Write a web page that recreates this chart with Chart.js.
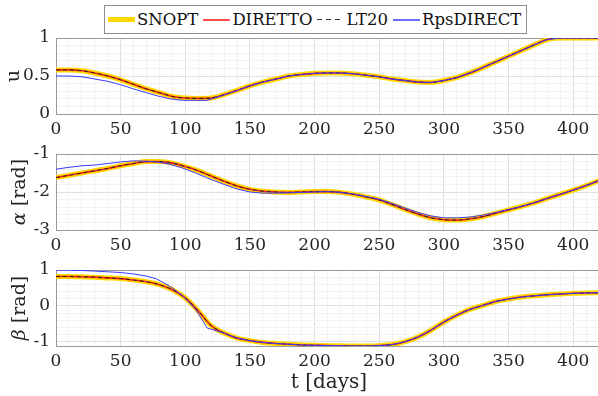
<!DOCTYPE html>
<html>
<head>
<meta charset="utf-8">
<script src="https://cdn.jsdelivr.net/npm/chart.js@4.4.1/dist/chart.umd.min.js"></script>
<style>
  body { margin: 0; overflow: hidden; background: #fff; }
  #wrap { position: absolute; left: 0; top: 0; width: 604px; height: 396px; }
  #wrap canvas { position: absolute; left: 0; top: 0; }
  .lbl { position: absolute; font-family: "DejaVu Serif", serif; color: #262626; white-space: nowrap; }
  .ytitle { transform: translate(-50%, -50%) rotate(-90deg); font-size: 19px; }
  #legend { position: absolute; left: 104px; top: 5px; height: 27px; border: 1px solid #8c8c8c;
    background: #fff; font-family: "DejaVu Serif", serif; font-size: 16.5px; color: #111;
    display: inline-flex; align-items: center; padding-right: 3px; white-space: nowrap; }
  .item { display: flex; align-items: center; margin-left: 3px; margin-right: 2px; }
  .sample { width: 27px; margin-right: 2px; }
</style>
</head>
<body>
<div id="wrap">
  <canvas id="c-u" width="604" height="396"></canvas>
  <canvas id="c-alpha" width="604" height="396"></canvas>
  <canvas id="c-beta" width="604" height="396"></canvas>

  <div id="legend">
    <span class="item"><span class="sample" style="height:5px;background:#FFD700"></span>SNOPT</span>
    <span class="item"><span class="sample" style="height:2px;background:#ff4d4d"></span>DIRETTO</span>
    <span class="item"><span class="sample" style="height:1px;background:repeating-linear-gradient(to right,#333 0 5px,transparent 5px 9px)"></span>LT20</span>
    <span class="item"><span class="sample" style="height:2px;background:#6b6bff"></span>RpsDIRECT</span>
  </div>

  <div class="lbl ytitle" style="left:12px;top:76px">u</div>
  <div class="lbl ytitle" style="left:18px;top:192px"><i>α</i> [rad]</div>
  <div class="lbl ytitle" style="left:18px;top:308px"><i>β</i> [rad]</div>
  <div class="lbl" style="left:329px;top:381px;transform:translate(-50%,-50%);font-size:20px">t [days]</div>
</div>

<script>
// time grid of the smooth solutions and of the RpsDIRECT nodes
const days = [0, 10, 20, 30, 40, 50, 60, 70, 80, 90, 100, 110, 120, 130, 140, 150, 160, 170, 180, 190, 200,
  210, 220, 230, 240, 250, 260, 270, 280, 290, 300, 310, 320, 330, 340, 350, 360, 370, 380, 390, 400, 410, 420];
const rpsDays = [0, 10, 20, 30, 40, 50, 60, 70, 78, 88, 98, 108, 117, 130, 140, 150, 160, 170, 180, 190, 200,
  210, 220, 230, 240, 250, 260, 270, 280, 290, 300, 310, 320, 330, 340, 350, 360, 370, 380, 390, 400, 410, 420];

// u
const uSnopt = [0.58, 0.58, 0.57, 0.54, 0.50, 0.45, 0.39, 0.33, 0.28, 0.23, 0.21, 0.205, 0.21, 0.255, 0.31,
  0.37, 0.42, 0.46, 0.50, 0.52, 0.535, 0.54, 0.54, 0.53, 0.51, 0.49, 0.46, 0.44, 0.42, 0.415, 0.44,
  0.48, 0.54, 0.61, 0.685, 0.76, 0.835, 0.91, 0.98, 1, 1, 1, 1];
const uRps = [0.50, 0.50, 0.49, 0.46, 0.43, 0.385, 0.33, 0.28, 0.24, 0.20, 0.18, 0.18, 0.18, 0.25, 0.31,
  0.37, 0.42, 0.46, 0.50, 0.52, 0.535, 0.54, 0.54, 0.53, 0.51, 0.49, 0.46, 0.44, 0.42, 0.415, 0.44,
  0.48, 0.54, 0.61, 0.685, 0.76, 0.835, 0.91, 0.98, 1, 1, 1, 1];

// alpha [rad]
const alphaSnopt = [-1.62, -1.56, -1.50, -1.44, -1.38, -1.31, -1.25, -1.20, -1.20, -1.24, -1.33, -1.44, -1.58,
  -1.72, -1.84, -1.93, -1.98, -2.00, -2.01, -2.00, -1.99, -1.99, -2.01, -2.06, -2.13, -2.21, -2.33, -2.46,
  -2.58, -2.68, -2.73, -2.74, -2.71, -2.65, -2.56, -2.47, -2.38, -2.28, -2.17, -2.06, -1.95, -1.83, -1.70];
const alphaRps = [-1.40, -1.35, -1.31, -1.29, -1.25, -1.21, -1.18, -1.19, -1.21, -1.27, -1.37, -1.50, -1.63,
  -1.80, -1.92, -2.00, -2.03, -2.03, -2.02, -2.01, -2.00, -1.99, -2.01, -2.05, -2.12, -2.19, -2.30, -2.42,
  -2.54, -2.63, -2.68, -2.68, -2.66, -2.61, -2.54, -2.46, -2.38, -2.28, -2.17, -2.06, -1.95, -1.83, -1.70];

// beta [rad]
const betaSnopt = [0.82, 0.82, 0.81, 0.80, 0.78, 0.76, 0.72, 0.67, 0.59, 0.45, 0.22, -0.14, -0.55, -0.76,
  -0.90, -0.97, -1.02, -1.05, -1.07, -1.09, -1.10, -1.11, -1.115, -1.12, -1.12, -1.11, -1.08, -1.00, -0.87,
  -0.68, -0.45, -0.26, -0.10, 0.01, 0.12, 0.19, 0.245, 0.28, 0.31, 0.33, 0.35, 0.36, 0.365];
const betaRps = [1.00, 0.995, 0.985, 0.97, 0.95, 0.93, 0.89, 0.83, 0.75, 0.55, 0.28, -0.10, -0.62, -0.76,
  -0.90, -0.97, -1.02, -1.05, -1.07, -1.09, -1.10, -1.11, -1.115, -1.12, -1.12, -1.11, -1.08, -1.00, -0.87,
  -0.68, -0.45, -0.26, -0.10, 0.01, 0.12, 0.19, 0.245, 0.28, 0.31, 0.33, 0.35, 0.36, 0.365];

// tick labels
const dayTicks = [0, 50, 100, 150, 200, 250, 300, 350, 400];
const uTicks = [0, 0.5, 1];
const alphaTicks = [-3, -2, -1];
const betaTicks = [-1, 0, 1];

const FONT = { family: "'DejaVu Serif', serif", size: 17 };

const pts = (xs, ys) => xs.map((x, i) => ({ x: x, y: ys[i] }));
const isMajor = (list, v) => list.some(m => Math.abs(m - v) < 1e-6);

function gridTicks(min, max, step) {
  const out = [];
  const n = Math.round((max - min) / step);
  for (let i = 0; i <= n; i++) out.push(+(min + i * step).toFixed(6));
  return out;
}

// box round the axes, like matlab's "box on"
const frame = {
  id: "frame",
  beforeDatasetsDraw(chart) {
    const { ctx, chartArea: a } = chart;
    ctx.save();
    ctx.strokeStyle = "#9a9a9a";
    ctx.lineWidth = 1;
    ctx.strokeRect(Math.round(a.left) + 0.5, Math.round(a.top) + 0.5,
      Math.round(a.right - a.left), Math.round(a.bottom - a.top));
    ctx.restore();
  }
};

function makeChart(id, snopt, rps, yMin, yMax, yMajors, yMinorStep, padTop, padBottom) {
  const datasets = [
    { label: "SNOPT", data: pts(days, snopt), borderColor: "#FFD700", borderWidth: 5, order: 4,
      cubicInterpolationMode: "monotone" },
    { label: "DIRETTO", data: pts(days, snopt), borderColor: "#ff2020", borderWidth: 1.6, order: 3,
      cubicInterpolationMode: "monotone" },
    { label: "LT20", data: pts(days, snopt), borderColor: "#222", borderWidth: 1, borderDash: [4, 3], order: 2,
      cubicInterpolationMode: "monotone" },
    { label: "RpsDIRECT", data: pts(rpsDays, rps), borderColor: "#3a3aff", borderWidth: 1, order: 1 }
  ];

  const config = {
    type: "line",
    data: { datasets: datasets },
    options: {
      responsive: false,
      animation: false,
      events: [],
      elements: { point: { radius: 0 } },
      layout: { padding: { top: padTop, bottom: padBottom, left: 0, right: 2 } },
      plugins: { legend: { display: false }, tooltip: { enabled: false } },
      scales: {
        x: {
          type: "linear", min: 0, max: 420,
          afterBuildTicks: s => { s.ticks = gridTicks(0, 420, 10).map(v => ({ value: v })); },
          afterFit: s => { s.height = 30; },
          ticks: {
            autoSkip: false, maxRotation: 0, padding: 5, color: "#262626", font: FONT,
            callback: v => isMajor(dayTicks, v) ? String(v) : ""
          },
          grid: {
            drawTicks: false,
            color: c => (c.tick && isMajor(dayTicks, c.tick.value)) ? "#e0e0e0" : "#f2f2f2"
          },
          border: { display: false }
        },
        y: {
          type: "linear", min: yMin, max: yMax,
          afterBuildTicks: s => {
            const start = Math.ceil(yMin / yMinorStep - 1e-6) * yMinorStep;
            s.ticks = gridTicks(start, Math.floor(yMax / yMinorStep + 1e-6) * yMinorStep, yMinorStep)
              .map(v => ({ value: v }));
          },
          afterFit: s => { s.width = 56; },
          ticks: {
            autoSkip: false, padding: 6, color: "#262626", font: FONT,
            callback: v => isMajor(yMajors, v) ? String(v) : ""
          },
          grid: {
            drawTicks: false,
            color: c => (c.tick && isMajor(yMajors, c.tick.value)) ? "#e0e0e0" : "#f2f2f2"
          },
          border: { display: false }
        }
      }
    },
    plugins: [frame]
  };

  return new Chart(document.getElementById(id).getContext("2d"), config);
}

const uChart = makeChart("c-u", uSnopt, uRps, 0, 1, uTicks, 0.1, 38, 396 - 114 - 30);
const alphaChart = makeChart("c-alpha", alphaSnopt, alphaRps, -3, -1, alphaTicks, 0.2, 154, 396 - 230 - 30);
const betaChart = makeChart("c-beta", betaSnopt, betaRps, -1.12, 1, betaTicks, 0.2, 270, 396 - 346 - 30);
</script>
</body>
</html>
